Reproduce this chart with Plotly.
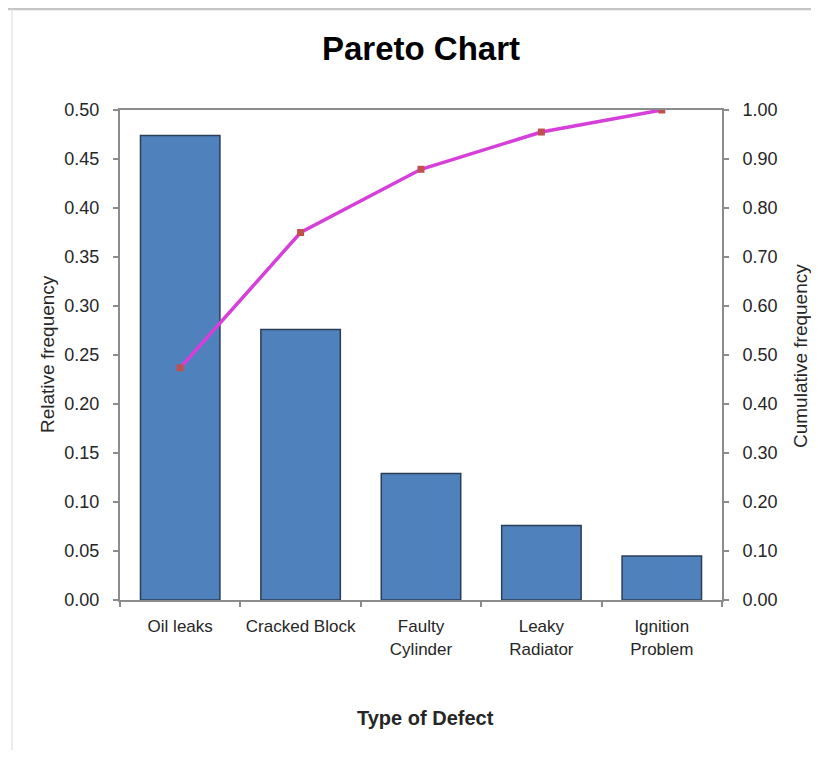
import plotly.graph_objects as go

categories = ["Oil leaks", "Cracked Block", "Faulty<br>Cylinder", "Leaky<br>Radiator", "Ignition<br>Problem"]
relative_freq = [0.474, 0.276, 0.129, 0.076, 0.045]
cumulative_freq = [0.474, 0.750, 0.879, 0.955, 1.000]
left_ticks = [0.00, 0.05, 0.10, 0.15, 0.20, 0.25, 0.30, 0.35, 0.40, 0.45, 0.50]
right_ticks = [0.0, 0.1, 0.2, 0.3, 0.4, 0.5, 0.6, 0.7, 0.8, 0.9, 1.0]

# page body has an 8px margin; work in page coordinates and shift
OFF = 8
W, H = 819 - 2 * OFF, 758 - 2 * OFF
L, R, T, B = 120 - OFF, 722 - OFF, 110 - OFF, 600 - OFF

def px(x):
    return (x - OFF - L) / (R - L)

def py(y):
    return (B - (y - OFF)) / (B - T)

FONT = "Liberation Sans, Arial, sans-serif"
TXT = "#262626"
AX = "#8c8c8c"

fig = go.Figure()
fig.add_trace(go.Bar(
    x=categories, y=relative_freq,
    marker=dict(color="#4F81BD", line=dict(color="#2B3E57", width=1.5)),
    width=0.66, yaxis="y", showlegend=False,
))
fig.add_trace(go.Scatter(
    x=categories, y=cumulative_freq, yaxis="y2", mode="lines+markers",
    line=dict(color="#D63FD9", width=3.5),
    marker=dict(symbol="square", size=7, color="#C0504D"),
    showlegend=False,
))

fig.update_layout(
    width=W, height=H,
    margin=dict(l=L, r=W - R, t=T, b=H - B, pad=0),
    paper_bgcolor="white", plot_bgcolor="white",
    font=dict(family=FONT, size=18, color=TXT),
    title=dict(text="<b>Pareto Chart</b>", x=px(421), xref="paper", xanchor="center",
               y=1 - (48 - OFF) / H, yref="container", yanchor="middle",
               font=dict(family=FONT, size=33, color="#000")),
    xaxis=dict(
        type="category", tickson="boundaries", ticks="outside", ticklen=5, tickwidth=2,
        tickcolor=AX, showline=True, linecolor=AX, linewidth=2, mirror=True,
        showgrid=False, tickfont=dict(size=17, color=TXT), range=[-0.5, 4.5],
        ticklabelstandoff=10, tickangle=0,
    ),
    yaxis=dict(
        range=[0, 0.5], tickvals=left_ticks, tickformat=".2f", ticks="outside",
        ticklen=5, tickwidth=2, tickcolor=AX, showline=True, linecolor=AX,
        linewidth=2, showgrid=False, zeroline=False, tickfont=dict(size=18, color=TXT),
        ticklabelstandoff=10,
    ),
    yaxis2=dict(
        range=[0, 1.0], tickvals=right_ticks, tickformat=".2f", ticks="outside",
        ticklen=5, tickwidth=2, tickcolor=AX, showline=True, linecolor=AX,
        linewidth=2, showgrid=False, zeroline=False, overlaying="y", side="right",
        tickfont=dict(size=18, color=TXT), ticklabelstandoff=10,
    ),
    bargap=0.34,
)

fig.add_annotation(text="Relative frequency", textangle=-90, x=px(47), y=py(354),
                   xref="paper", yref="paper", showarrow=False,
                   font=dict(size=19, color=TXT), xanchor="center", yanchor="middle")
fig.add_annotation(text="Cumulative frequency", textangle=-90, x=px(800), y=py(356),
                   xref="paper", yref="paper", showarrow=False,
                   font=dict(size=19, color=TXT), xanchor="center", yanchor="middle")
fig.add_annotation(text="<b>Type of Defect</b>", x=px(425), y=py(718),
                   xref="paper", yref="paper", showarrow=False,
                   font=dict(size=20, color=TXT), xanchor="center", yanchor="middle")

# outer chart frame (top and left edges visible)
fig.add_shape(type="line", xref="paper", yref="paper", x0=px(0), x1=px(830), y0=py(9), y1=py(9),
              line=dict(color="#c4c4c4", width=2.5))
fig.add_shape(type="line", xref="paper", yref="paper", x0=px(12), x1=px(12), y0=py(9), y1=py(770),
              line=dict(color="#d9d9d9", width=1))

fig.write_html("out.html")
